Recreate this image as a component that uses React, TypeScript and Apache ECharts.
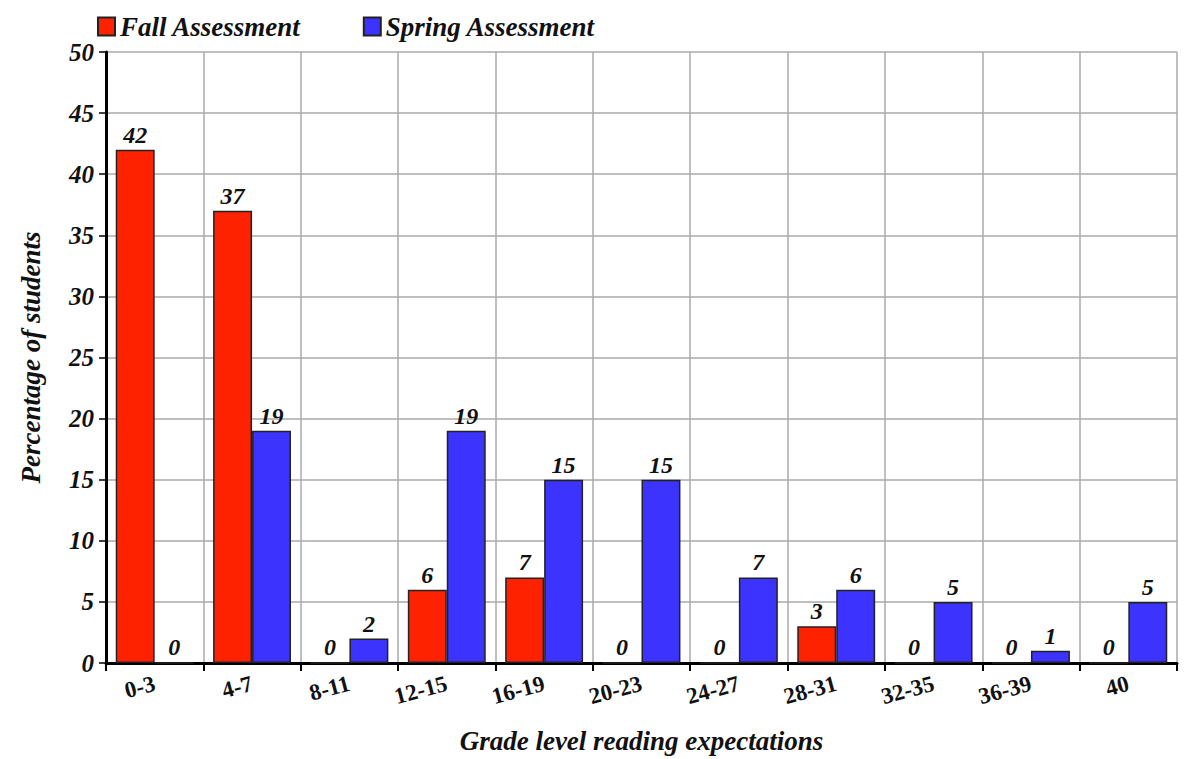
import React, { useEffect, useRef } from "react";
import * as echarts from "echarts";

const categories = ["0-3", "4-7", "8-11", "12-15", "16-19", "20-23", "24-27", "28-31", "32-35", "36-39", "40"];
const fallValues = [42, 37, 0, 6, 7, 0, 0, 3, 0, 0, 0];
const springValues = [0, 19, 2, 19, 15, 15, 7, 6, 5, 1, 5];
const seriesNames = ["Fall Assessment", "Spring Assessment"];

const FONT = "'Liberation Serif', 'Times New Roman', serif";

export default function App() {
  const ref = useRef<HTMLDivElement>(null);
  useEffect(() => {
    if (!ref.current) return;
    const chart = echarts.init(ref.current, undefined, { renderer: "svg" });
    const labelStyle = {
      show: true,
      position: "top",
      distance: 3,
      fontFamily: FONT,
      fontStyle: "italic",
      fontWeight: "bold",
      fontSize: 24,
      color: "#111",
    };
    chart.setOption({
      animation: false,
      backgroundColor: "#fff",
      legend: {
        left: 92,
        top: 8,
        itemWidth: 17,
        itemHeight: 18,
        itemGap: 62,
        icon: "rect",
        textStyle: { fontFamily: FONT, fontStyle: "italic", fontWeight: "bold", fontSize: 27, color: "#111" },
        data: seriesNames,
      },
      grid: { left: 106, right: 7, top: 52, bottom: 92 },
      xAxis: {
        type: "category",
        data: categories,
        name: "Grade level reading expectations",
        nameLocation: "middle",
        nameGap: 64,
        nameTextStyle: { fontFamily: FONT, fontStyle: "italic", fontWeight: "bold", fontSize: 27, color: "#111" },
        axisLine: { lineStyle: { color: "#000", width: 3 } },
        axisTick: { show: true, length: 8, lineStyle: { color: "#000", width: 2 } },
        axisLabel: { rotate: 15, margin: 20, fontFamily: FONT, fontWeight: "bold", fontSize: 23, color: "#111" },
        splitLine: { show: true, lineStyle: { color: "#aaa", width: 1.5 } },
      },
      yAxis: {
        type: "value",
        min: 0,
        max: 50,
        interval: 5,
        name: "Percentage of students",
        nameLocation: "middle",
        nameGap: 62,
        nameTextStyle: { fontFamily: FONT, fontStyle: "italic", fontWeight: "bold", fontSize: 27, color: "#111" },
        axisLine: { show: true, lineStyle: { color: "#000", width: 3 } },
        axisTick: { show: true, length: 7, lineStyle: { color: "#000", width: 1.5 } },
        axisLabel: { margin: 12, fontFamily: FONT, fontStyle: "italic", fontWeight: "bold", fontSize: 25, color: "#111" },
        splitLine: { show: true, lineStyle: { color: "#aaa", width: 1.5 } },
      },
      series: [
        {
          name: seriesNames[0],
          type: "bar",
          data: fallValues,
          barGap: "0%",
          barCategoryGap: "20%",
          itemStyle: { color: "#ff2200", borderColor: "#222", borderWidth: 1.5 },
          label: labelStyle,
        },
        {
          name: seriesNames[1],
          type: "bar",
          data: springValues,
          barGap: "0%",
          barCategoryGap: "20%",
          itemStyle: { color: "#3d33ff", borderColor: "#222", borderWidth: 1.5 },
          label: labelStyle,
        },
      ],
    });
    return () => chart.dispose();
  }, []);
  return (
    <div
      ref={ref}
      style={{ position: "fixed", left: 0, top: 0, width: 1184, height: 759 }}
    />
  );
}
